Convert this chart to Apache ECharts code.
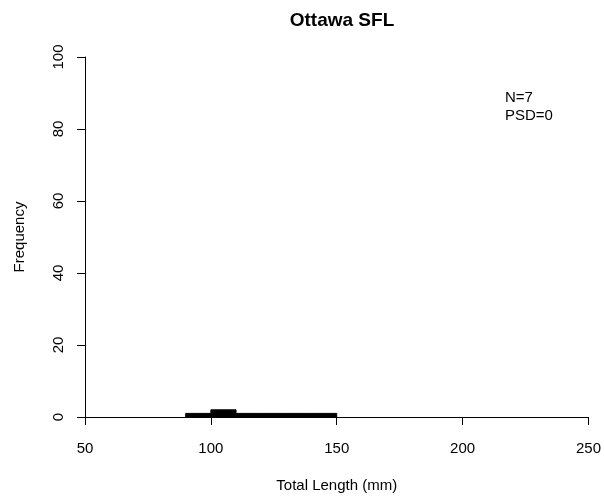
<!DOCTYPE html>
<html>
<head>
<meta charset="utf-8">
<script src="https://cdn.jsdelivr.net/npm/echarts@6/dist/echarts.min.js"></script>
<style>
  html, body { margin: 0; padding: 0; background: #fff; }
  #chart { width: 604px; height: 502px; }
</style>
</head>
<body>
<div id="chart"></div>
<script>
// Length-frequency histogram, 10 mm bins
const binStart = [90, 100, 110, 120, 130, 140];
const binEnd = [100, 110, 120, 130, 140, 150];
const counts = [1, 2, 1, 1, 1, 1];
const xTicks = [50, 100, 150, 200, 250];
const yTicks = [0, 20, 40, 60, 80, 100];
const statLines = ['N=7', 'PSD=0'];

const FONT = '"Liberation Sans", Arial, Helvetica, sans-serif';
const chart = echarts.init(document.getElementById('chart'), null, { renderer: 'canvas' });

const bins = binStart.map((s, i) => [s, binEnd[i], counts[i]]);

chart.setOption({
  animation: false,
  backgroundColor: '#fff',
  title: {
    text: 'Ottawa SFL',
    left: 337,
    top: 6,
    textAlign: 'center',
    textStyle: { fontFamily: FONT, fontSize: 19, fontWeight: 'bold', color: '#000' }
  },
  grid: { left: 85, right: 15, top: 57, bottom: 85 },
  xAxis: {
    type: 'value',
    min: xTicks[0],
    max: xTicks[xTicks.length - 1],
    interval: 50,
    name: 'Total Length (mm)',
    nameLocation: 'middle',
    nameGap: 61,
    nameTextStyle: { fontFamily: FONT, fontSize: 15, color: '#000' },
    axisLine: { show: true, onZero: false, lineStyle: { color: '#000', width: 1 } },
    axisTick: { show: true, length: 8, lineStyle: { color: '#000' } },
    axisLabel: { margin: 24, fontFamily: FONT, fontSize: 15, color: '#000' },
    splitLine: { show: false }
  },
  yAxis: {
    type: 'value',
    min: yTicks[0],
    max: yTicks[yTicks.length - 1],
    interval: 20,
    name: 'Frequency',
    nameLocation: 'middle',
    nameRotate: 90,
    nameGap: 58,
    nameTextStyle: { fontFamily: FONT, fontSize: 15, color: '#000' },
    axisLine: { show: true, lineStyle: { color: '#000', width: 1 } },
    axisTick: { show: true, length: 8, lineStyle: { color: '#000' } },
    axisLabel: { rotate: 90, margin: 19, fontFamily: FONT, fontSize: 15, color: '#000' },
    splitLine: { show: false }
  },
  graphic: statLines.map((t, i) => ({
    type: 'text',
    left: 505,
    top: 90 + i * 18.5,
    style: { text: t, font: '15px ' + FONT, fill: '#000' }
  })),
  series: [{
    type: 'custom',
    data: bins,
    encode: { x: [0, 1], y: 2 },
    renderItem: function (params, api) {
      const p0 = api.coord([api.value(0), api.value(2)]);
      const p1 = api.coord([api.value(1), 0]);
      return {
        type: 'rect',
        shape: { x: p0[0], y: p0[1], width: p1[0] - p0[0], height: p1[1] - p0[1] },
        style: { fill: '#000', stroke: '#000', lineWidth: 1 }
      };
    }
  }]
});
</script>
</body>
</html>
